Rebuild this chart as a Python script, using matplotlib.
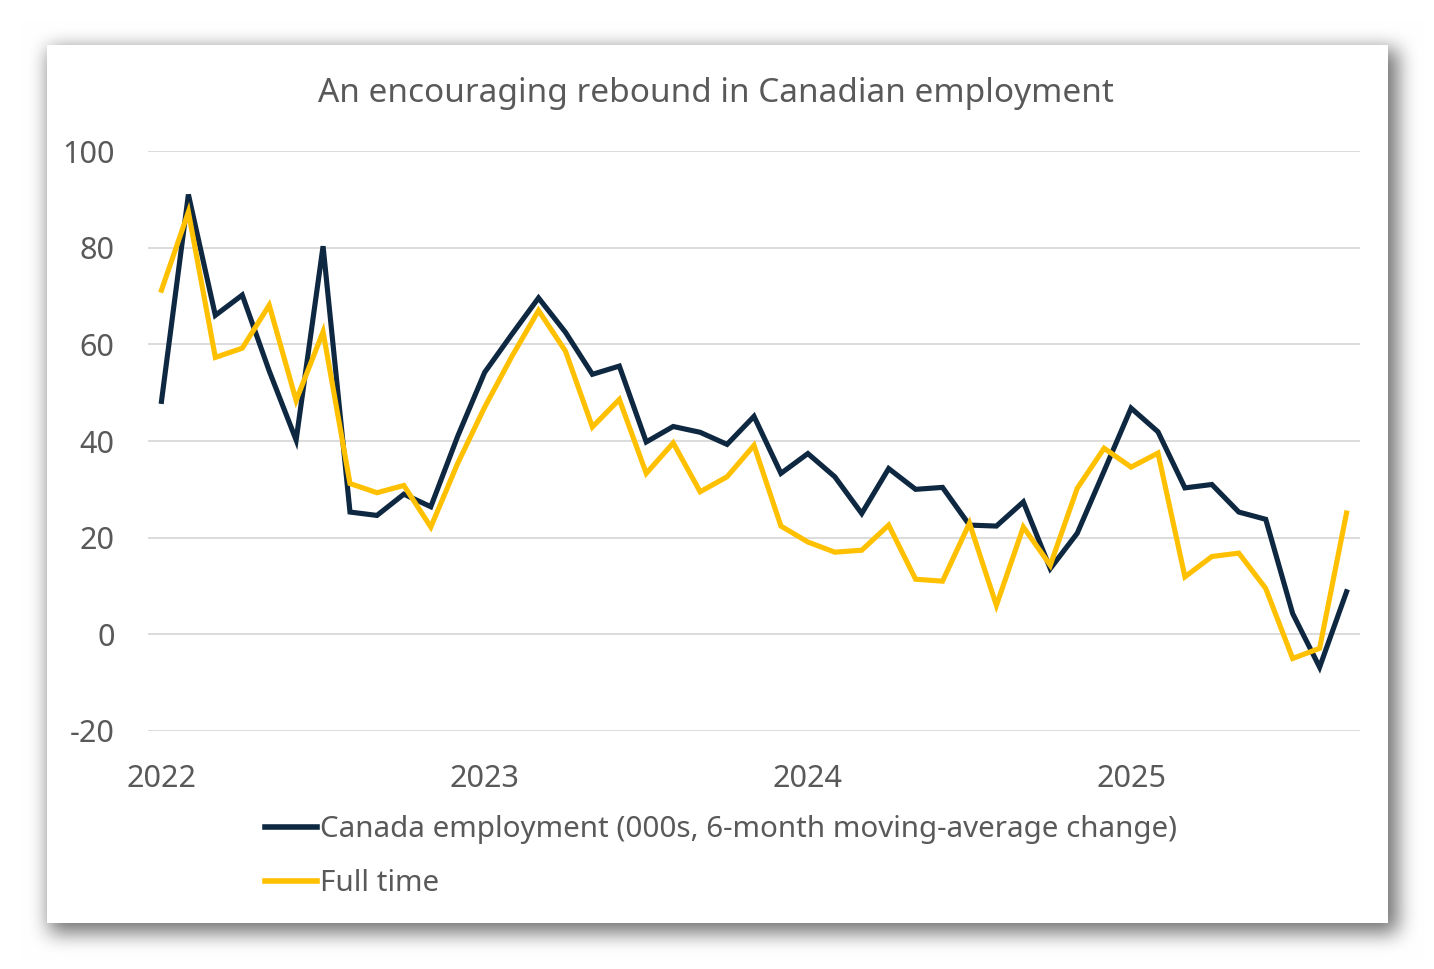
import numpy as np
import matplotlib
matplotlib.use('Agg')
from matplotlib import pyplot as plt
from matplotlib.patches import Rectangle

# Monthly data, Jan 2022 - Sep 2025 (000s, 6-month moving-average change)
employment = [48.2, 91.0, 66.0, 70.2, 54.5, 40.2, 80.3, 25.3, 24.6, 29.0, 26.4, 41.0,
              54.2, 62.0, 69.6, 62.5, 53.8, 55.5, 39.8, 43.0, 41.8, 39.3, 45.1, 33.3,
              37.4, 32.6, 25.0, 34.3, 30.0, 30.4, 22.6, 22.4, 27.4, 13.6, 20.9, 33.8,
              46.8, 41.9, 30.3, 31.0, 25.3, 23.8, 4.3, -6.8, 8.8]
full_time = [71.2, 87.4, 57.3, 59.2, 68.1, 48.4, 62.6, 31.2, 29.3, 30.8, 22.2, 35.4,
             47.0, 57.4, 67.0, 58.6, 42.9, 48.6, 33.3, 39.6, 29.5, 32.6, 39.1, 22.4,
             19.1, 17.0, 17.4, 22.6, 11.4, 11.0, 23.0, 6.0, 22.2, 14.3, 30.2, 38.5,
             34.6, 37.5, 11.9, 16.1, 16.8, 9.5, -5.0, -2.9, 25.1]
year_labels = ['2022', '2023', '2024', '2025']
y_ticks = [-20, 0, 20, 40, 60, 80, 100]

navy = '#0E2841'
gold = '#FFC000'
grey_text = '#595959'

plt.rcParams['font.family'] = ['Noto Sans', 'DejaVu Sans']
plt.rcParams['axes.unicode_minus'] = False

W, H = 1434, 969
fig = plt.figure(figsize=(W / 100, H / 100), dpi=100)
fig.patch.set_facecolor('white')

# soft drop shadow behind the card
card = (47, 45, 1388, 923)  # left, top, right, bottom in pixels
mask = np.zeros((H, W))
mask[card[1] + 4:card[3] + 10, card[0] + 2:card[2] + 10] = 1.0

def box_blur(a, r, axis):
    c = np.cumsum(np.pad(a, [(r + 1, r) if i == axis else (0, 0) for i in range(2)], mode='edge'), axis=axis)
    hi = np.take(c, np.arange(2 * r + 1, c.shape[axis]), axis=axis)
    lo = np.take(c, np.arange(0, c.shape[axis] - 2 * r - 1), axis=axis)
    return (hi - lo) / (2 * r + 1)

for _ in range(3):
    mask = box_blur(mask, 9, 0)
    mask = box_blur(mask, 9, 1)
shade = 1.0 - 0.55 * mask
img = np.dstack([shade, shade, shade])
fig.figimage(img, xo=0, yo=0, origin='upper', zorder=0)

fig.patches.append(Rectangle((card[0] / W, 1 - card[3] / H),
                             (card[2] - card[0]) / W, (card[3] - card[1]) / H,
                             transform=fig.transFigure, facecolor='white',
                             edgecolor='none', zorder=1))

ax = fig.add_axes([148 / W, 1 - 731 / H, 1212 / W, 580 / H])
ax.set_facecolor('none')
ax.set_zorder(2)

months = np.arange(len(employment))
ax.plot(months, employment, color=navy, lw=3.7, solid_joinstyle='miter',
        label='Canada employment (000s, 6-month moving-average change)', zorder=3)
ax.plot(months, full_time, color=gold, lw=3.7, solid_joinstyle='miter',
        label='Full time', zorder=3)

ax.set_xlim(-0.5, len(employment) - 0.5)
ax.set_ylim(-20, 100)
ax.set_yticks(y_ticks)
ax.set_xticks(np.arange(len(year_labels)) * 12)
ax.set_xticklabels(year_labels)
ax.grid(axis='y', color='#D9D9D9', lw=1.3)
ax.set_axisbelow(True)
for s in ax.spines.values():
    s.set_visible(False)
ax.tick_params(axis='both', length=0, labelsize=22, labelcolor=grey_text)
ax.tick_params(axis='y', pad=24)
ax.tick_params(axis='x', pad=24)

fig.text(716 / W, 1 - 93 / H, 'An encouraging rebound in Canadian employment',
         ha='center', va='center', fontsize=24, color=grey_text)

leg = fig.legend(loc='upper left', bbox_to_anchor=(265 / W, 1 - 815 / H),
                 frameon=False, fontsize=21.3, handlelength=1.75, handletextpad=0.1,
                 labelspacing=0.85, borderpad=0, borderaxespad=0)
for t in leg.get_texts():
    t.set_color(grey_text)
for l in leg.get_lines():
    l.set_linewidth(4)

fig.savefig('out.png', dpi=100)
